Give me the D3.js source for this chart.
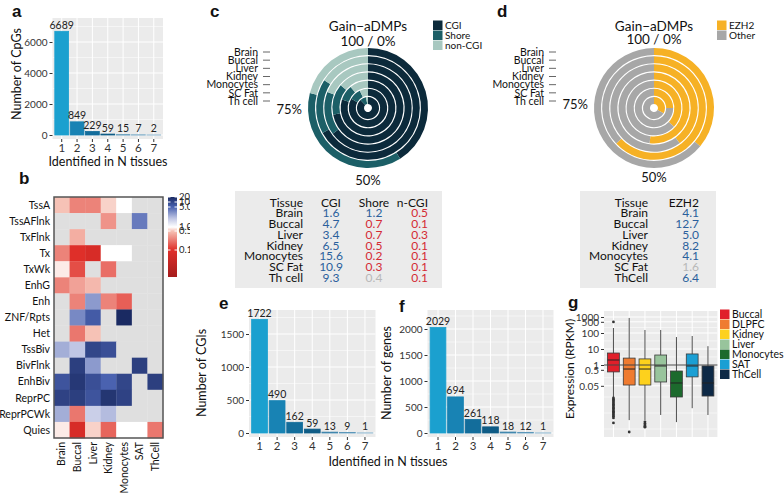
<!DOCTYPE html>
<html>
<head>
<meta charset="utf-8">
<script src="https://cdn.jsdelivr.net/npm/d3@7"></script>
<style>
  body { margin: 0; background: #fff; }
  svg text { font-family: Lato, "Open Sans", sans-serif; }
</style>
</head>
<body>
<svg id="fig" width="784" height="493"></svg>
<script>
// ---------- data ----------
const nTissues = ["1", "2", "3", "4", "5", "6", "7"];
const cpgCounts = [6689, 849, 229, 59, 15, 7, 2];
const cgiCounts = [1722, 490, 162, 59, 13, 9, 1];
const geneCounts = [2029, 694, 261, 118, 18, 12, 1];
const barColors = ["#1ba0cf", "#1883b4", "#136d9b", "#0f5c86", "#3f86ad", "#5b97ba", "#77a9c6"];

const hmStates = ["TssA", "TssAFlnk", "TxFlnk", "Tx", "TxWk", "EnhG", "Enh", "ZNF/Rpts", "Het",
  "TssBiv", "BivFlnk", "EnhBiv", "ReprPC", "ReprPCWk", "Quies"];
const hmTissues = ["Brain", "Buccal", "Liver", "Kidney", "Monocytes", "SAT", "ThCell"];
const hmValues = [
  [0.5, 0.25, 0.25, 0.6, 1.0, null, null],
  [null, null, null, 0.3, null, 4, null],
  [null, 0.4, null, null, null, null, null],
  [0.25, 0.1, 0.08, 1.0, 1.0, null, null],
  [0.8, 0.14, null, 0.2, null, null, null],
  [0.25, 0.35, 0.45, null, null, null, null],
  [null, 0.25, 3, 0.25, 0.17, null, null],
  [null, 3.5, 6, null, 20, null, null],
  [null, 0.22, 0.5, null, null, null, null],
  [2.5, 2, 10, 8, null, null, null],
  [null, 12, 3, null, null, 12, null],
  [7, 14, 8, 5, 10, null, 12],
  [11, 12, 7, 15, 11, null, null],
  [2.5, 0.22, 1.8, 2.2, null, null, null],
  [0.8, 0.08, 0.6, 0.18, 1.0, 1.0, 0.22]
];
const hmLegendTicks = [20, 10, 5, 1, 0.5, 0.1];
const hmLegendLabels = ["20", "10", "5.0", "1.0", "0.5", "0.1"];

const ringTissues = ["Brain", "Buccal", "Liver", "Kidney", "Monocytes", "SC Fat", "Th cell"];
const cgiFrac = [0.41, 0.67, 0.65, 0.72, 0.80, 0.83, 0.88];
const shoreFrac = [0.38, 0.17, 0.16, 0.14, 0.09, 0.10, 0.09];
const ncgiFrac = [0.21, 0.16, 0.19, 0.14, 0.11, 0.07, 0.03];
const cgiKeys = ["CGI", "Shore", "non-CGI"];
const cgiColors = ["#0c2a3b", "#1c5f67", "#a8c8c0"];

const ezhFrac = [0.36, 0.63, 0.40, 0.52, 0.37, 0.25, 0.33];
const ezhKeys = ["EZH2", "Other"];
const ezhColors = ["#f6b125", "#a7a7a7"];

const tabTissues = ["Brain", "Buccal", "Liver", "Kidney", "Monocytes", "SC Fat", "Th cell"];
const tabCGI = [1.6, 4.7, 3.4, 6.5, 15.6, 10.9, 9.3];
const tabShore = [1.2, 0.7, 0.7, 0.5, 0.2, 0.3, 0.4];
const tabNCGI = [0.5, 0.1, 0.3, 0.1, 0.1, 0.1, 0.1];
const tabShoreSig = [true, true, true, true, true, true, false];
const tabTissuesD = ["Brain", "Buccal", "Liver", "Kidney", "Monocytes", "SC Fat", "ThCell"];
const tabEZH2 = [4.1, 12.7, 5.0, 8.2, 4.1, 1.6, 6.4];
const tabEZH2Sig = [true, true, true, true, true, false, true];

const boxGroups = ["Buccal", "DLPFC", "Kidney", "Liver", "Monocytes", "SAT", "ThCell"];
const boxColors = ["#e01f2a", "#ef7b30", "#fdd11d", "#98c49c", "#1c6a2d", "#1a9fd4", "#0d2946"];
const boxLow = [0.01, 0.00036, 0.00036, 0.00075, 0.00027, 0.002, 0.00075];
const boxQ1 = [0.37, 0.056, 0.056, 0.087, 0.01, 0.18, 0.0115];
const boxMed = [2.05, 0.56, 0.56, 0.87, 0.075, 0.87, 0.075];
const boxQ3 = [5.6, 2.7, 2.4, 4.2, 0.42, 4.9, 0.87];
const boxHigh = [205, 870, 154, 154, 56, 65, 15];
const buccalOut = [490, 0.0087, 0.0072, 0.006, 0.005, 0.0042, 0.0035, 0.0029, 0.0024, 0.002,
  0.0016, 0.0013, 0.0011, 0.0009, 0.00075, 0.00062, 0.00049, 0.00024];
const dlpfcOut = [0.000065];
const kidneyOut = [0.00028, 0.00022, 0.00018, 0.00015, 0.00013];
const boxOutliers = [buccalOut, dlpfcOut, kidneyOut, [], [], [], []];
const exprTicks = [0.05, 0.5, 1, 10, 100, 500, 1000];
const exprTickLabels = ["0.05", "0.5", "1", "10", "100", "500", "1000"];
const exprMinor = [0.0001, 0.001, 0.01, 0.16, 3.2, 32, 220];

// ---------- helpers ----------
const svg = d3.select("#fig");
const TXT = "#333";

function panelLetter(letter, x, y) {
  svg.append("text").attr("x", x).attr("y", y).text(letter)
    .style("font-family", "'Liberation Sans', Arial, sans-serif")
    .attr("font-size", 17).attr("font-weight", "bold").attr("fill", "#111");
}

function styleAxis(sel, size) {
  sel.select(".domain").remove();
  sel.selectAll(".tick line").attr("stroke", "#333");
  sel.selectAll(".tick text").attr("fill", TXT).attr("font-size", size);
}

function barPanel(o) {
  const g = svg.append("g");
  const x = d3.scaleBand().domain(nTissues).range([o.left, o.right])
    .paddingInner(0.1).paddingOuter(0.15);
  const y = d3.scaleLinear().domain([0, o.step]).range([o.zeroY, o.zeroY - o.stepPx]);
  const maxV = y.invert(o.top);

  g.append("rect").attr("x", o.left).attr("y", o.top)
    .attr("width", o.right - o.left).attr("height", o.bottom - o.top).attr("fill", "#ebebeb");

  // grid
  g.selectAll(".minor").data(d3.range(o.step / 2, maxV, o.step)).enter().append("line")
    .attr("x1", o.left).attr("x2", o.right).attr("y1", d => y(d)).attr("y2", d => y(d))
    .attr("stroke", "#fff").attr("stroke-width", 0.5);
  const majors = d3.range(0, maxV, o.step);
  g.selectAll(".major").data(majors).enter().append("line")
    .attr("x1", o.left).attr("x2", o.right).attr("y1", d => y(d)).attr("y2", d => y(d))
    .attr("stroke", "#fff").attr("stroke-width", 1);
  g.selectAll(".vgrid").data(nTissues).enter().append("line")
    .attr("x1", d => x(d) + x.bandwidth() / 2).attr("x2", d => x(d) + x.bandwidth() / 2)
    .attr("y1", o.top).attr("y2", o.bottom).attr("stroke", "#fff").attr("stroke-width", 1);

  // bars
  g.selectAll(".bar").data(o.values).enter().append("rect")
    .attr("x", (d, i) => x(nTissues[i]))
    .attr("y", d => y(d))
    .attr("width", x.bandwidth())
    .attr("height", d => y(0) - y(d))
    .attr("fill", (d, i) => barColors[i])
    .attr("stroke", (d, i) => barColors[i]).attr("stroke-width", 0.8);

  g.selectAll(".lab").data(o.values).enter().append("text")
    .attr("x", (d, i) => x(nTissues[i]) + x.bandwidth() / 2)
    .attr("y", d => y(d) - 2.5)
    .attr("text-anchor", "middle").attr("font-size", 10.5).attr("fill", "#222")
    .text(d => d);

  // axes
  const ya = g.append("g").attr("transform", `translate(${o.left},0)`)
    .call(d3.axisLeft(y).tickValues(majors).tickSize(3).tickPadding(2).tickFormat(d3.format("d")));
  styleAxis(ya, 10);
  const xa = g.append("g").attr("transform", `translate(0,${o.bottom})`)
    .call(d3.axisBottom(x).tickSize(3).tickPadding(2));
  styleAxis(xa, 11.5);

  g.append("text")
    .attr("transform", `translate(${o.yTitleX},${o.yTitleY}) rotate(-90)`)
    .attr("text-anchor", "middle").attr("font-size", 12.5).attr("fill", "#111").text(o.yTitle);
  return g;
}

// ---------- a ----------
panelLetter("a", 12, 17);
barPanel({ values: cpgCounts, left: 52.5, right: 163, top: 18, bottom: 139, zeroY: 135,
  step: 2000, stepPx: 31, yTitle: "Number of CpGs", yTitleX: 21, yTitleY: 74 });
svg.append("text").attr("x", 108).attr("y", 166).attr("text-anchor", "middle")
  .attr("font-size", 12.5).attr("fill", "#111").text("Identified in N tissues");

// ---------- b ----------
panelLetter("b", 19, 184);
const hmColor = d3.scaleLinear()
  .domain([0.02, 0.1, 0.5, 1, 2, 5, 20].map(Math.log10))
  .range(["#a51c1c", "#df2f29", "#f6c2b6", "#ffffff", "#c0c6e4", "#4a62b0", "#1a2a62"])
  .clamp(true);
const hx = d3.scaleBand().domain(hmTissues).range([54, 163]);
const hy = d3.scaleBand().domain(hmStates).range([197, 438]);
const gHm = svg.append("g");
hmValues.forEach((row, i) => {
  row.forEach((v, j) => {
    gHm.append("rect")
      .attr("x", hx(hmTissues[j])).attr("y", hy(hmStates[i]))
      .attr("width", hx.bandwidth() + 0.3).attr("height", hy.bandwidth() + 0.3)
      .attr("fill", v == null ? "#dfdfdf" : hmColor(Math.log10(v)));
  });
});
gHm.append("rect").attr("x", 54).attr("y", 197).attr("width", 109).attr("height", 241)
  .attr("fill", "none").attr("stroke", "#555").attr("stroke-width", 1.5);
gHm.selectAll(".rl").data(hmStates).enter().append("text")
  .attr("x", 50).attr("y", d => hy(d) + hy.bandwidth() / 2).attr("dy", "0.35em")
  .attr("text-anchor", "end").attr("font-size", 10.5).attr("fill", "#111").text(d => d);
gHm.selectAll(".cl").data(hmTissues).enter().append("text")
  .attr("transform", d => `translate(${hx(d) + hx.bandwidth() / 2},442) rotate(-90)`)
  .attr("dy", "0.35em").attr("text-anchor", "end").attr("font-size", 10.5).attr("fill", "#111")
  .text(d => d);

// legend colour bar
const legY = d3.scaleLinear()
  .domain([20, 10, 5, 1, 0.5, 0.1, 0.02].map(Math.log10))
  .range([197, 202, 207, 227, 231, 250, 277]);
const defs = svg.append("defs");
const grad = defs.append("linearGradient").attr("id", "hmgrad")
  .attr("x1", 0).attr("x2", 0).attr("y1", 0).attr("y2", 1);
d3.range(0, 1.0001, 0.025).forEach(t => {
  const yy = 197 + t * 80;
  grad.append("stop").attr("offset", t).attr("stop-color", hmColor(legY.invert(yy)));
});
defs.append("clipPath").attr("id", "legclip").append("rect")
  .attr("x", 150).attr("y", 180).attr("width", 40).attr("height", 110);
const gLeg = svg.append("g").attr("clip-path", "url(#legclip)");
gLeg.append("rect").attr("x", 168).attr("y", 197).attr("width", 9).attr("height", 80)
  .attr("fill", "url(#hmgrad)");
gLeg.selectAll(".lt").data(hmLegendTicks).enter().append("line")
  .attr("x1", 168).attr("x2", 170.5).attr("y1", d => legY(Math.log10(d))).attr("y2", d => legY(Math.log10(d)))
  .attr("stroke", "#fff");
gLeg.selectAll(".lt2").data(hmLegendTicks).enter().append("line")
  .attr("x1", 174.5).attr("x2", 177).attr("y1", d => legY(Math.log10(d))).attr("y2", d => legY(Math.log10(d)))
  .attr("stroke", "#fff");
gLeg.selectAll(".ll").data(hmLegendTicks).enter().append("text")
  .attr("x", 179).attr("y", d => legY(Math.log10(d))).attr("dy", "0.35em")
  .attr("font-size", 9.5).attr("fill", "#222").text((d, i) => hmLegendLabels[i]);

// ---------- c, d rings ----------
function ringPanel(o) {
  const g = svg.append("g").attr("transform", `translate(${o.cx},${o.cy})`);
  const r = d3.scaleBand().domain(ringTissues).range([60, 4]).paddingInner(0.14);
  const pie = d3.pie().sort(null).value(d => d);
  ringTissues.forEach((t, i) => {
    const arc = d3.arc().innerRadius(r(t)).outerRadius(r(t) + r.bandwidth());
    g.selectAll(null).data(pie(o.parts[i])).enter().append("path")
      .attr("d", arc).attr("fill", (d, k) => o.colors[k]);
  });
  g.append("text").attr("y", -77).attr("text-anchor", "middle").attr("font-size", 13.5)
    .attr("fill", "#111").text("Gain\u2212aDMPs");
  g.append("text").attr("y", o.topY).attr("text-anchor", "middle").attr("font-size", 13.5)
    .attr("fill", "#111").text("100 / 0%");
  g.append("text").attr("x", -66).attr("y", o.leftY).attr("text-anchor", "end").attr("font-size", 13)
    .attr("fill", "#111").text("75%");
  g.append("text").attr("y", o.bottomY).attr("text-anchor", "middle").attr("font-size", 13)
    .attr("fill", "#111").text("50%");

  const ly = d3.scalePoint().domain(ringTissues).range([52 - o.cy, 101 - o.cy]);
  g.selectAll(".rlab").data(ringTissues).enter().append("text")
    .attr("x", -110).attr("y", d => ly(d)).attr("dy", "0.35em")
    .attr("text-anchor", "end").attr("font-size", 10.5).attr("fill", "#111").text(d => d);
  g.selectAll(".rdash").data(ringTissues).enter().append("line")
    .attr("x1", -105).attr("x2", -98).attr("y1", d => ly(d)).attr("y2", d => ly(d))
    .attr("stroke", "#555").attr("stroke-width", 0.9);

  // legend
  const lg = svg.append("g");
  o.keys.forEach((k, i) => {
    lg.append("rect").attr("x", o.legX).attr("y", 20.5 + i * 10).attr("width", 9.5).attr("height", 9.5)
      .attr("fill", o.colors[i]);
    lg.append("text").attr("x", o.legX + 12).attr("y", 25.5 + i * 10).attr("dy", "0.35em")
      .attr("font-size", 10).attr("fill", "#111").text(k);
  });
}

panelLetter("c", 210, 17);
ringPanel({ cx: 368, cy: 108, colors: cgiColors, keys: cgiKeys, legX: 433,
  parts: ringTissues.map((t, i) => [cgiFrac[i], shoreFrac[i], ncgiFrac[i]]),
  topY: -62, leftY: 6, bottomY: 77 });
panelLetter("d", 497, 17);
ringPanel({ cx: 654, cy: 108, colors: ezhColors, keys: ezhKeys, legX: 717,
  parts: ringTissues.map((t, i) => [ezhFrac[i], 1 - ezhFrac[i]]),
  topY: -64, leftY: 1, bottomY: 74 });

// ---------- tables ----------
const blueTxt = "#2a5f9c", redTxt = "#d42a33", grayTxt = "#b8b8b8";
function tableRowsY(rows) {
  return d3.scalePoint().domain(["header"].concat(rows)).range([206.5, 282]);
}
// table c
const tc = svg.append("g");
tc.append("rect").attr("x", 235).attr("y", 191).attr("width", 207).attr("height", 97).attr("fill", "#ebebeb");
const tyc = tableRowsY(tabTissues);
const fmt = d3.format(".1f");
const colsC = [
  { head: "Tissue", x: 303, anchor: "end", vals: tabTissues, col: () => "#111" },
  { head: "CGI", x: 331, anchor: "middle", vals: tabCGI.map(fmt), col: (i) => tabCGI[i] > 1 ? blueTxt : redTxt },
  { head: "Shore", x: 374, anchor: "middle", vals: tabShore.map(fmt),
    col: (i) => !tabShoreSig[i] ? grayTxt : (tabShore[i] > 1 ? blueTxt : redTxt) },
  { head: "n-CGI", x: 428, anchor: "end", vals: tabNCGI.map(fmt), col: (i) => tabNCGI[i] > 1 ? blueTxt : redTxt }
];
colsC.forEach(c => {
  tc.append("text").attr("x", c.x).attr("y", tyc("header")).attr("text-anchor", c.anchor)
    .attr("font-size", 12).attr("fill", "#111").text(c.head);
  c.vals.forEach((v, i) => {
    tc.append("text").attr("x", c.x).attr("y", tyc(tabTissues[i])).attr("text-anchor", c.anchor)
      .attr("font-size", 12).attr("fill", c.col(i)).text(v);
  });
});
// table d
const td = svg.append("g");
td.append("rect").attr("x", 580).attr("y", 191).attr("width", 136).attr("height", 97).attr("fill", "#ebebeb");
const tyd = tableRowsY(tabTissuesD);
td.append("text").attr("x", 648).attr("y", tyd("header")).attr("text-anchor", "end")
  .attr("font-size", 12).attr("fill", "#111").text("Tissue");
td.append("text").attr("x", 699).attr("y", tyd("header")).attr("text-anchor", "end")
  .attr("font-size", 12).attr("fill", "#111").text("EZH2");
tabTissuesD.forEach((t, i) => {
  td.append("text").attr("x", 648).attr("y", tyd(t)).attr("text-anchor", "end")
    .attr("font-size", 12).attr("fill", "#111").text(t);
  td.append("text").attr("x", 699).attr("y", tyd(t)).attr("text-anchor", "end")
    .attr("font-size", 12).attr("fill", tabEZH2Sig[i] ? blueTxt : grayTxt).text(fmt(tabEZH2[i]));
});

// ---------- e, f ----------
panelLetter("e", 219, 309);
barPanel({ values: cgiCounts, left: 249, right: 375.5, top: 310, bottom: 437, zeroY: 433,
  step: 500, stepPx: 33, yTitle: "Number of CGIs", yTitleX: 206, yTitleY: 373 });
panelLetter("f", 399, 312);
barPanel({ values: geneCounts, left: 427.5, right: 553.5, top: 310, bottom: 437, zeroY: 433,
  step: 500, stepPx: 26, yTitle: "Number of genes", yTitleX: 391, yTitleY: 373 });
svg.append("text").attr("x", 388).attr("y", 466).attr("text-anchor", "middle")
  .attr("font-size", 12.5).attr("fill", "#111").text("Identified in N tissues");

// ---------- g ----------
panelLetter("g", 568, 308);
const gg = svg.append("g");
const gx = d3.scaleBand().domain(boxGroups).range([604, 717.4]).paddingInner(0.25).paddingOuter(0.225);
const gy = d3.scaleLog().domain([1, 1000]).range([365, 317]);
gg.append("rect").attr("x", 604).attr("y", 311).attr("width", 113.4).attr("height", 126).attr("fill", "#ebebeb");
gg.selectAll(".mn").data(exprMinor).enter().append("line")
  .attr("x1", 604).attr("x2", 717.4).attr("y1", d => gy(d)).attr("y2", d => gy(d))
  .attr("stroke", "#fff").attr("stroke-width", 0.5);
gg.selectAll(".mj").data(exprTicks).enter().append("line")
  .attr("x1", 604).attr("x2", 717.4).attr("y1", d => gy(d)).attr("y2", d => gy(d))
  .attr("stroke", "#fff").attr("stroke-width", 1);
gg.selectAll(".vg").data(boxGroups).enter().append("line")
  .attr("x1", d => gx(d) + gx.bandwidth() / 2).attr("x2", d => gx(d) + gx.bandwidth() / 2)
  .attr("y1", 311).attr("y2", 437).attr("stroke", "#fff");

boxGroups.forEach((grp, i) => {
  const cx = gx(grp) + gx.bandwidth() / 2;
  gg.append("line").attr("x1", cx).attr("x2", cx).attr("y1", gy(boxHigh[i])).attr("y2", gy(boxLow[i]))
    .attr("stroke", "#3a3a3a").attr("stroke-width", 0.9);
  gg.append("rect").attr("x", gx(grp)).attr("y", gy(boxQ3[i]))
    .attr("width", gx.bandwidth()).attr("height", gy(boxQ1[i]) - gy(boxQ3[i]))
    .attr("fill", boxColors[i]).attr("stroke", "#3a3a3a").attr("stroke-width", 0.8);
  gg.append("line").attr("x1", gx(grp)).attr("x2", gx(grp) + gx.bandwidth())
    .attr("y1", gy(boxMed[i])).attr("y2", gy(boxMed[i])).attr("stroke", "#222").attr("stroke-width", 1);
  gg.selectAll(null).data(boxOutliers[i]).enter().append("circle")
    .attr("cx", cx).attr("cy", d => gy(d)).attr("r", 1.4).attr("fill", "#333");
});
gg.append("line").attr("x1", 604).attr("x2", 717.4).attr("y1", gy(1)).attr("y2", gy(1))
  .attr("stroke", "#444").attr("stroke-width", 1.2);

const gya = gg.append("g").attr("transform", "translate(604,0)")
  .call(d3.axisLeft(gy).tickValues(exprTicks).tickSize(3).tickPadding(2)
    .tickFormat((d, i) => exprTickLabels[i]));
styleAxis(gya, 10);
gg.append("text").attr("transform", "translate(574,369) rotate(-90)").attr("text-anchor", "middle")
  .attr("font-size", 12).attr("fill", "#111").text("Expression (RPKM)");

boxGroups.forEach((grp, i) => {
  gg.append("rect").attr("x", 720).attr("y", 309.5 + i * 10).attr("width", 9.5).attr("height", 9.5)
    .attr("fill", boxColors[i]);
  gg.append("text").attr("x", 732).attr("y", 314.5 + i * 10).attr("dy", "0.35em")
    .attr("font-size", 10.5).attr("fill", "#111").text(grp);
});
</script>
</body>
</html>
